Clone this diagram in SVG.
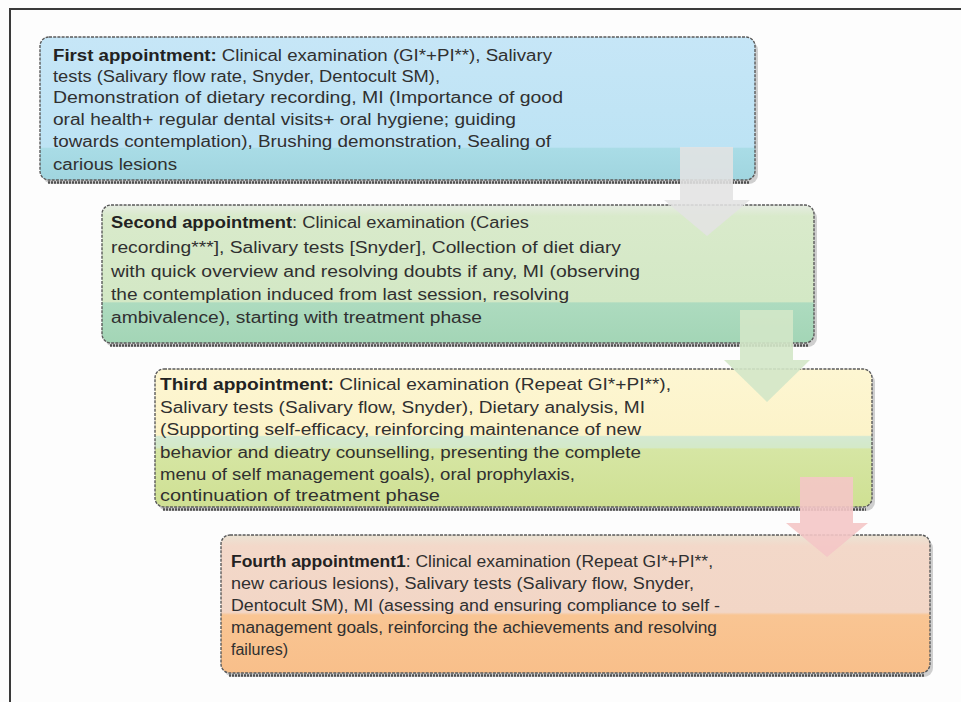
<svg xmlns="http://www.w3.org/2000/svg" width="961" height="702" viewBox="0 0 961 702">
<style>
.t{font-family:"Liberation Sans",Arial,sans-serif;font-size:16px;fill:#303030}
.b{font-weight:bold;fill:#222}
.box{stroke:#5a5a5a;stroke-width:1.4;stroke-dasharray:3 1.2}
.sh{fill:#8a8a8a;opacity:0.4}
.shl{stroke:#505050;stroke-width:2.5;stroke-dasharray:2 1;fill:none}
</style>
<defs>
<linearGradient id="g1" x1="0" y1="0" x2="0" y2="1">
<stop offset="0" stop-color="#c6e6f7"/><stop offset="0.77" stop-color="#bde3f4"/><stop offset="0.78" stop-color="#a9dce6"/><stop offset="1" stop-color="#a0d5df"/>
</linearGradient>
<linearGradient id="g2" x1="0" y1="0" x2="0" y2="1">
<stop offset="0" stop-color="#e6ece2"/><stop offset="0.08" stop-color="#d9eacb"/><stop offset="0.70" stop-color="#d3e8c5"/><stop offset="0.71" stop-color="#addbbf"/><stop offset="1" stop-color="#a3d5b6"/>
</linearGradient>
<linearGradient id="g3" x1="0" y1="0" x2="0" y2="1">
<stop offset="0" stop-color="#fdf6d2"/><stop offset="0.48" stop-color="#fcf3c9"/><stop offset="0.49" stop-color="#d4e9d2"/><stop offset="0.57" stop-color="#d4e9c8"/><stop offset="0.58" stop-color="#d6e6a4"/><stop offset="1" stop-color="#cfe093"/>
</linearGradient>
<linearGradient id="g4" x1="0" y1="0" x2="0" y2="1">
<stop offset="0" stop-color="#ebe3d4"/><stop offset="0.08" stop-color="#f3d8c9"/><stop offset="0.56" stop-color="#f2d6c6"/><stop offset="0.58" stop-color="#f9c593"/><stop offset="1" stop-color="#f8bf8a"/>
</linearGradient>
</defs>
<rect width="961" height="702" fill="#fdfdfd"/>
<path d="M10,702 V9 H961" fill="none" stroke="#3a3a3a" stroke-width="2"/>

<g id="first">
<rect class="sh" x="43" y="41" width="715" height="143" rx="9"/>
<rect class="box" x="40" y="37" width="715" height="143" rx="9" fill="url(#g1)"/>
<path class="shl" d="M48,182.5 H750"/>
<text class="t" x="53" y="61" textLength="499" lengthAdjust="spacingAndGlyphs"><tspan class="b">First appointment:</tspan> Clinical examination (GI*+PI**), Salivary</text>
<text class="t" x="53" y="82" textLength="387" lengthAdjust="spacingAndGlyphs">tests (Salivary flow rate, Snyder, Dentocult SM),</text>
<text class="t" x="53" y="103" textLength="510" lengthAdjust="spacingAndGlyphs">Demonstration of dietary recording, MI (Importance of good</text>
<text class="t" x="53" y="125" textLength="463" lengthAdjust="spacingAndGlyphs">oral health+ regular dental visits+ oral hygiene; guiding</text>
<text class="t" x="53" y="147" textLength="498" lengthAdjust="spacingAndGlyphs">towards contemplation), Brushing demonstration, Sealing of</text>
<text class="t" x="53" y="170" textLength="124" lengthAdjust="spacingAndGlyphs">carious lesions</text>
</g>

<g id="second">
<rect class="sh" x="105" y="209" width="712" height="138" rx="9"/>
<rect class="box" x="102" y="205" width="712" height="138" rx="9" fill="url(#g2)"/>
<path class="shl" d="M110,345.5 H808"/>
<text class="t" x="111" y="228" textLength="418" lengthAdjust="spacingAndGlyphs"><tspan class="b">Second appointment</tspan>: Clinical examination (Caries</text>
<text class="t" x="111" y="253" textLength="510" lengthAdjust="spacingAndGlyphs">recording***], Salivary tests [Snyder], Collection of diet diary</text>
<text class="t" x="111" y="277" textLength="529" lengthAdjust="spacingAndGlyphs">with quick overview and resolving doubts if any, MI (observing</text>
<text class="t" x="111" y="300" textLength="458" lengthAdjust="spacingAndGlyphs">the contemplation induced from last session, resolving</text>
<text class="t" x="111" y="323" textLength="371" lengthAdjust="spacingAndGlyphs">ambivalence), starting with treatment phase</text>
</g>

<g id="third">
<rect class="sh" x="158" y="373" width="717" height="138" rx="9"/>
<rect class="box" x="155" y="369" width="717" height="138" rx="9" fill="url(#g3)"/>
<path class="shl" d="M163,509.5 H866"/>
<text class="t" x="160" y="390" textLength="511" lengthAdjust="spacingAndGlyphs"><tspan class="b">Third appointment:</tspan>  Clinical examination (Repeat GI*+PI**),</text>
<text class="t" x="160" y="413" textLength="485" lengthAdjust="spacingAndGlyphs">Salivary tests (Salivary flow, Snyder),  Dietary analysis,  MI</text>
<text class="t" x="160" y="435" textLength="481" lengthAdjust="spacingAndGlyphs">(Supporting self-efficacy, reinforcing maintenance of new</text>
<text class="t" x="160" y="458" textLength="481" lengthAdjust="spacingAndGlyphs">behavior and dieatry counselling, presenting the complete</text>
<text class="t" x="160" y="480" textLength="415" lengthAdjust="spacingAndGlyphs">menu of self management goals),  oral prophylaxis,</text>
<text class="t" x="160" y="501" textLength="280" lengthAdjust="spacingAndGlyphs">continuation of treatment phase</text>
</g>

<g id="fourth">
<rect class="sh" x="224" y="539" width="709" height="138" rx="9"/>
<rect class="box" x="221" y="535" width="709" height="138" rx="9" fill="url(#g4)"/>
<path class="shl" d="M229,675.5 H924"/>
<text class="t" x="231" y="567" textLength="482" lengthAdjust="spacingAndGlyphs"><tspan class="b">Fourth appointment1</tspan>: Clinical examination (Repeat GI*+PI**,</text>
<text class="t" x="231" y="589" textLength="463" lengthAdjust="spacingAndGlyphs">new carious lesions), Salivary tests (Salivary flow, Snyder,</text>
<text class="t" x="231" y="611" textLength="489" lengthAdjust="spacingAndGlyphs">Dentocult SM), MI (asessing and ensuring compliance to self -</text>
<text class="t" x="231" y="633" textLength="486" lengthAdjust="spacingAndGlyphs">management goals, reinforcing the achievements and resolving</text>
<text class="t" x="231" y="655" textLength="57" lengthAdjust="spacingAndGlyphs">failures)</text>
</g>

<g id="connectors">
<polygon points="680,147 733,147 733,200 750,200 707,236 664,200 680,200" fill="#e2e2e2" opacity="0.88"/>
<polygon points="740,310 793,310 793,360 810,360 767,402 724,360 740,360" fill="#d3e7c8" opacity="0.9"/>
<polygon points="800,477 853,477 853,523 868,523 827,557 786,523 800,523" fill="#f4c6c6" opacity="0.9"/>
</g>
</svg>
